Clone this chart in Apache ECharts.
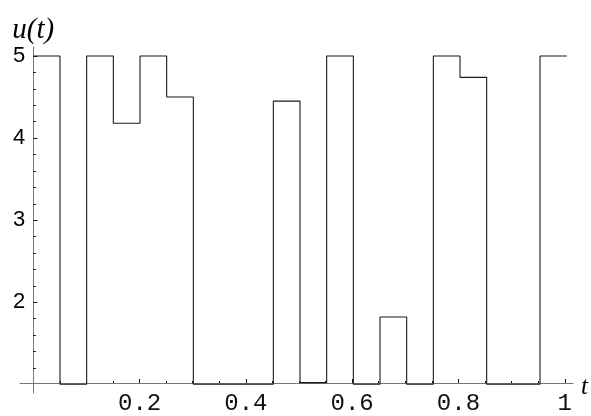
<!DOCTYPE html>
<html>
<head>
<meta charset="utf-8">
<script src="https://cdn.jsdelivr.net/npm/echarts@6/dist/echarts.min.js"></script>
<style>
  html, body { margin: 0; padding: 0; background: #fff; }
  #chart { width: 591px; height: 416px; }
</style>
</head>
<body>
<div id="chart"></div>
<script>
// Piecewise-constant control u(t): each value holds from its start time to the next one.
const stepStarts = [0, 0.05, 0.1, 0.15, 0.2, 0.25, 0.3, 0.35, 0.4, 0.45,
                    0.5, 0.55, 0.6, 0.65, 0.7, 0.75, 0.8, 0.85, 0.9, 0.95, 1.0];
const controlValues = [5, 1, 5, 4.18, 5, 4.5, 1, 1, 1, 4.45,
                       1.02, 5, 1, 1.82, 1, 5, 4.74, 1, 1, 5, 5];

// Tick marks and labels
const xMajorTicks = [0.2, 0.4, 0.6, 0.8, 1];
const xMajorLabels = ['0.2', '0.4', '0.6', '0.8', '1'];
const xMinorTicks = [0.05, 0.1, 0.15, 0.25, 0.3, 0.35, 0.45, 0.5, 0.55,
                     0.65, 0.7, 0.75, 0.85, 0.9, 0.95];
const yMajorTicks = [2, 3, 4, 5];
const yMajorLabels = ['2', '3', '4', '5'];
const yMinorTicks = [1.2, 1.4, 1.6, 1.8, 2.2, 2.4, 2.6, 2.8, 3.2, 3.4, 3.6, 3.8,
                     4.2, 4.4, 4.6, 4.8];

// Visible ranges (axes extend a little past the data on both ends)
const X_MIN = -0.025, X_MAX = 1.0156;
const Y_MIN = 0.894, Y_MAX = 5.11;

const AXIS_COLOR = '#777';
const TICK_COLOR = '#111';

const chart = echarts.init(document.getElementById('chart'), null, { renderer: 'canvas' });

const hiddenAxis = (extra) => Object.assign({
  type: 'value', show: false
}, extra);

const data = stepStarts.map((t, i) => [t, controlValues[i]]);

chart.setOption({
  animation: false,
  backgroundColor: '#fff',
  grid: [
    // plotting area
    { left: 20, right: 16, top: 47, bottom: 23 },
    // horizontal axis sits on u = 1
    { left: 20, right: 16, top: 47, bottom: 31.7 },
    // vertical axis sits on t = 0
    { left: 33.3, right: 16, top: 47, bottom: 23 }
  ],
  xAxis: [
    hiddenAxis({ gridIndex: 0, min: X_MIN, max: X_MAX }),
    {
      type: 'value', gridIndex: 1, min: X_MIN, max: X_MAX, position: 'bottom',
      name: '{v|t}', nameLocation: 'end', nameGap: 6,
      nameTextStyle: {
        fontFamily: 'Liberation Serif', fontStyle: 'italic', fontSize: 25, color: '#000',
        rich: {
          v: {
            fontFamily: 'Liberation Serif', fontStyle: 'italic', fontSize: 25,
            color: '#000', padding: [8, 0, 0, 2]
          }
        }
      },
      axisLine: { show: true, lineStyle: { color: AXIS_COLOR, width: 1 } },
      axisTick: { show: true, inside: true, length: 4, customValues: xMajorTicks,
                  lineStyle: { color: TICK_COLOR, width: 1 } },
      axisLabel: {
        show: true, customValues: xMajorTicks, margin: 9,
        formatter: (v) => xMajorLabels[xMajorTicks.indexOf(+v.toFixed(2))] ?? '',
        fontFamily: 'Liberation Mono', fontSize: 24, color: '#111'
      },
      splitLine: { show: false }
    },
    {
      type: 'value', gridIndex: 1, min: X_MIN, max: X_MAX, position: 'bottom',
      axisLine: { show: false },
      axisTick: { show: true, inside: true, length: 2, customValues: xMinorTicks,
                  lineStyle: { color: TICK_COLOR, width: 1 } },
      axisLabel: { show: false },
      splitLine: { show: false }
    },
    hiddenAxis({ gridIndex: 2, min: 0, max: 1 })
  ],
  yAxis: [
    hiddenAxis({ gridIndex: 0, min: Y_MIN, max: Y_MAX }),
    hiddenAxis({ gridIndex: 1, min: 0, max: 1 }),
    {
      type: 'value', gridIndex: 2, min: Y_MIN, max: Y_MAX, position: 'left',
      name: 'u(t)', nameLocation: 'end', nameGap: -4,
      nameTextStyle: {
        fontFamily: 'Liberation Serif', fontStyle: 'italic', fontSize: 29,
        color: '#000', align: 'center'
      },
      axisLine: { show: true, lineStyle: { color: AXIS_COLOR, width: 1 } },
      axisTick: { show: true, inside: true, length: 4, customValues: yMajorTicks,
                  lineStyle: { color: TICK_COLOR, width: 1 } },
      axisLabel: {
        show: true, customValues: yMajorTicks, margin: 8,
        formatter: (v) => yMajorLabels[yMajorTicks.indexOf(Math.round(v))] ?? '',
        fontFamily: 'Liberation Sans', fontSize: 22, color: '#000'
      },
      splitLine: { show: false }
    },
    {
      type: 'value', gridIndex: 2, min: Y_MIN, max: Y_MAX, position: 'left',
      axisLine: { show: false },
      axisTick: { show: true, inside: true, length: 2.5, customValues: yMinorTicks,
                  lineStyle: { color: TICK_COLOR, width: 1 } },
      axisLabel: { show: false },
      splitLine: { show: false }
    }
  ],
  series: [
    {
      type: 'line',
      xAxisIndex: 0, yAxisIndex: 0,
      data: data,
      step: 'end',
      showSymbol: false,
      symbol: 'none',
      z: 10,
      lineStyle: { color: '#1a1a1a', width: 1.1 }
    }
  ]
});
</script>
</body>
</html>
